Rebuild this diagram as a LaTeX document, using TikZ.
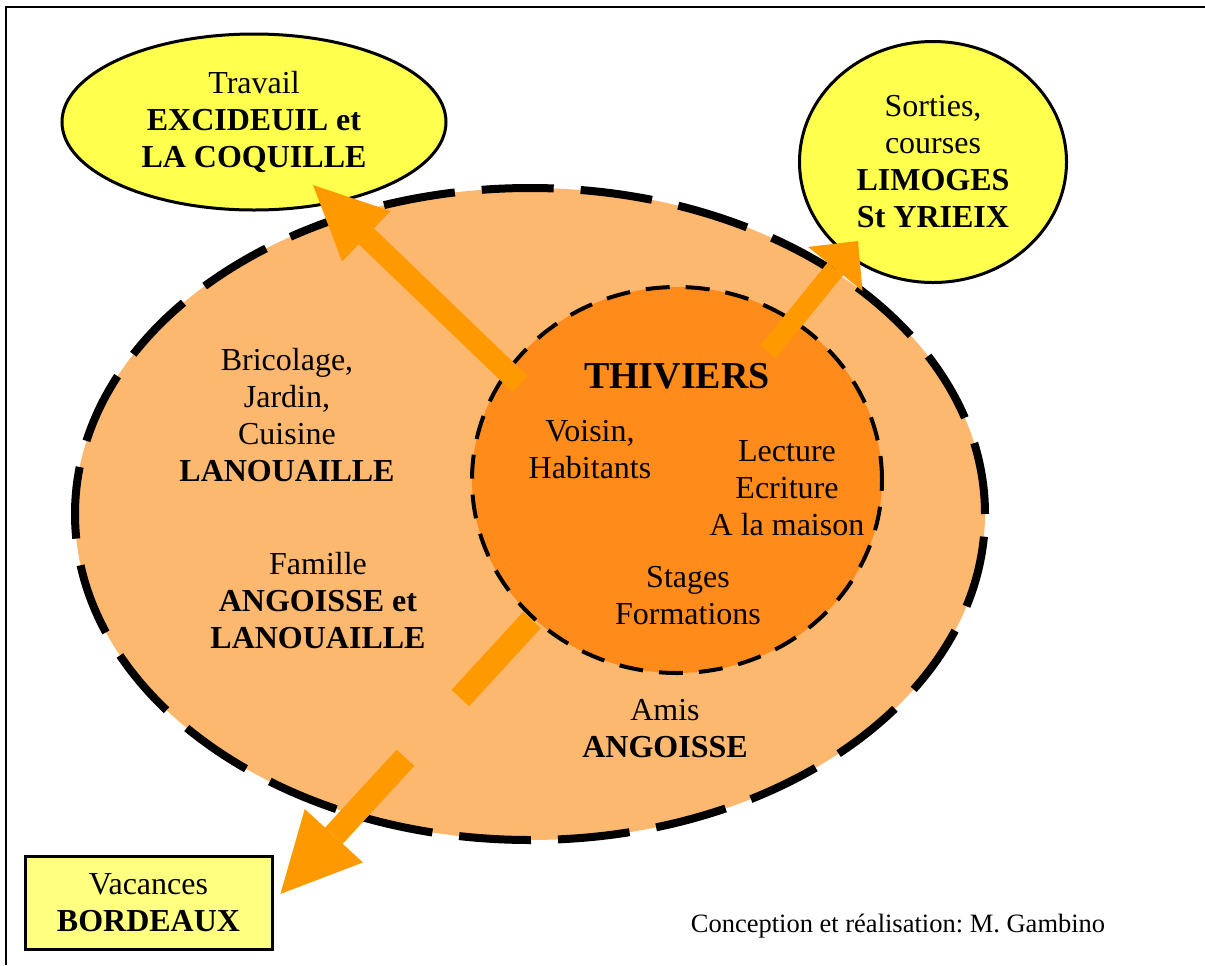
\documentclass[tikz,border=0pt]{standalone}
\usepackage{fontspec}
\setmainfont{Liberation Serif}
\usetikzlibrary{arrows.meta,positioning,shapes.geometric}
\definecolor{jaune}{HTML}{FFFF4D}
\definecolor{jauneclair}{HTML}{FFFF80}
\definecolor{orangeclair}{HTML}{FDB870}
\definecolor{orangefonce}{HTML}{FF8C1A}
\definecolor{fleche}{HTML}{FF9900}
\frenchspacing

\begin{document}
\begin{tikzpicture}[x=0.5pt,y=-0.5pt]
  % Styles
  \tikzset{
    lieu/.style={draw, line width=1.5pt, fill=jaune, align=center, inner sep=0pt, font=\fontsize{16}{18.5}\selectfont},
    zone/.style={ellipse, fill=orangeclair, draw, line width=4pt, dash pattern=on 36pt off 13.5pt, inner sep=0pt},
    centre/.style={ellipse, fill=orangefonce, draw, line width=2pt, dash pattern=on 12pt off 8pt, inner sep=0pt},
    txt/.style={align=center, font=\fontsize{16}{18.5}\selectfont},
    flux/.style={draw=fleche, line width=11pt},
  }

  \useasboundingbox (0,0) rectangle (1205,965);

  % Cadre
  \draw[line width=1pt] (6,965) -- (6,7) -- (1205,7);

  % Zones
  \node[zone, minimum width=455pt, minimum height=326pt] (region) at (530,514) {};
  \node[centre, minimum width=205pt, minimum height=193pt] (thiviers) at (677,480) {};

  % Destinations
  \node[lieu, ellipse, minimum width=192pt, minimum height=88pt] (travail) at (254,122)
    {Travail\\\textbf{EXCIDEUIL et}\\\textbf{LA COQUILLE}};
  \node[lieu, ellipse, minimum width=133.5pt, minimum height=120.5pt] (sorties) at (933,162)
    {Sorties,\\courses\\\textbf{LIMOGES}\\\textbf{St YRIEIX}};
  \node[lieu, rectangle, fill=jauneclair, minimum width=123.5pt, minimum height=46.5pt] (vacances) at (148.5,902.5)
    {Vacances\\\textbf{BORDEAUX}};

  % Textes
  \node[txt] (bricolage) at (287,415) {Bricolage,\\Jardin,\\Cuisine\\\textbf{LANOUAILLE}};
  \node[txt] (famille) at (318,601) {Famille\\\textbf{ANGOISSE et}\\\textbf{LANOUAILLE}};
  \node[txt, font=\bfseries\fontsize{19}{23}\selectfont] (titre) at (677,376) {THIVIERS};
  \node[txt] (voisin) at (590,450) {Voisin,\\Habitants};
  \node[txt] (lecture) at (787,488) {Lecture\\Ecriture\\A la maison};
  \node[txt] (stages) at (688,596) {Stages\\Formations};
  \node[txt] (amis) at (665,729) {Amis\\\textbf{ANGOISSE}};
  \node[txt, font=\fontsize{13.25}{15}\selectfont] (credit) at (898,926) {Conception et réalisation: M. Gambino};

  % Fleches
  \coordinate (depart-travail) at (520,384);
  \coordinate (bout-travail) at (313,185);
  \coordinate (depart-sorties) at (768,352);
  \coordinate (bout-sorties) at (858,241);
  \coordinate (depart-vacances) at (532,620);
  \coordinate (bout-vacances) at (273,902);

  \draw[flux, -{Triangle[length=37pt, width=35pt, line width=0pt]}] (depart-travail) -- (bout-travail);
  \draw[flux, line width=10pt, -{Triangle[length=18pt, width=35pt, line width=0pt]}] (depart-sorties) -- (bout-sorties);
  \draw[flux, line width=12pt, dash pattern=on 53pt off 40.5pt,
    -{Triangle[length=39.5pt, width=39.5pt, line width=0pt, sep=5.5pt]}] (depart-vacances) -- (bout-vacances);
\end{tikzpicture}
\end{document}
